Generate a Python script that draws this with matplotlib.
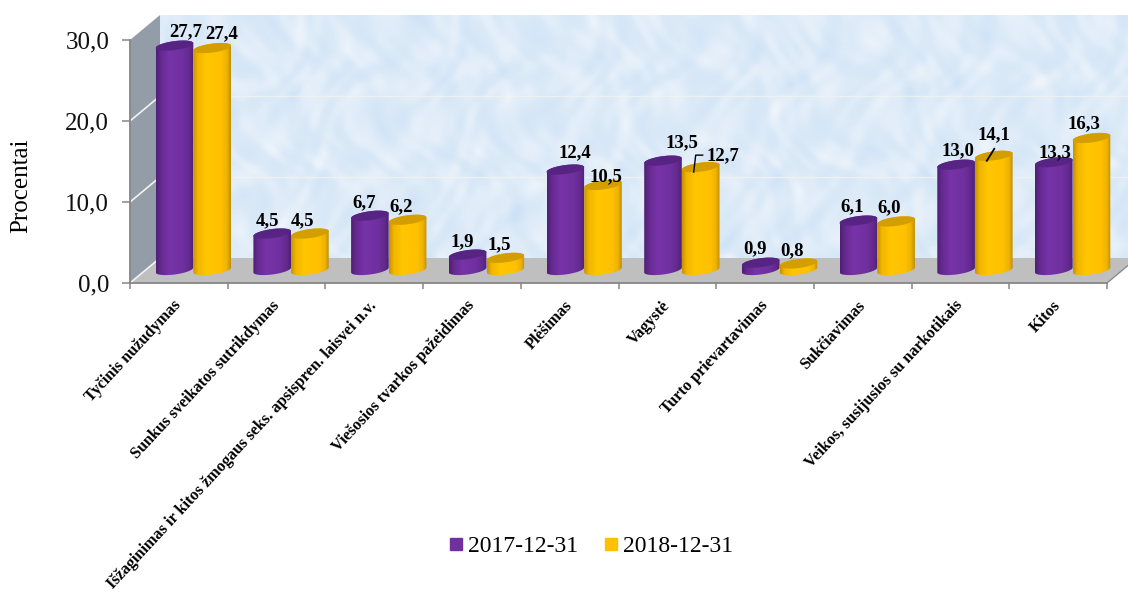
import numpy as np
import matplotlib
matplotlib.use("Agg")
import matplotlib.pyplot as plt
from matplotlib.colors import LinearSegmentedColormap
from matplotlib.lines import Line2D
from matplotlib.patches import PathPatch, Polygon
from matplotlib.path import Path
from matplotlib.transforms import Affine2D

plt.rcParams['font.family'] = ['Liberation Serif', 'DejaVu Serif']

categories = ["Tyčinis nužudymas", "Sunkus sveikatos sutrikdymas",
              "Išžaginimas ir kitos žmogaus seks. apsispren. laisvei n.v.",
              "Viešosios tvarkos pažeidimas", "Plėšimas", "Vagystė",
              "Turto prievartavimas", "Sukčiavimas",
              "Veikos, susijusios su narkotikais", "Kitos"]
series_names = ["2017-12-31", "2018-12-31"]
values_2017 = [27.7, 4.5, 6.7, 1.9, 12.4, 13.5, 0.9, 6.1, 13.0, 13.3]
values_2018 = [27.4, 4.5, 6.2, 1.5, 10.5, 12.7, 0.8, 6.0, 14.1, 16.3]
y_ticks = [0, 10, 20, 30]
y_tick_labels = ["0,0", "10,0", "20,0", "30,0"]
label_2017 = ["27,7", "4,5", "6,7", "1,9", "12,4", "13,5", "0,9", "6,1", "13,0", "13,3"]
label_2018 = ["27,4", "4,5", "6,2", "1,5", "10,5", "12,7", "0,8", "6,0", "14,1", "16,3"]

# label nudges from each bar top, in pixels (layout only)
nudge_2017 = [(11.5, 14), (-5, 12.5), (-6, 12.7), (-5.6, 12.6), (10, 16.6), (19, 18), (-5.7, 13.7), (-6.4, 13.5), (2, 13.7), (1, 10)]
nudge_2018 = [(9, 14), (-7, 12.5), (-6.6, 12.8), (-6, 12.8), (3, 8), (22, 11), (-6.4, 12.5), (-7, 13.3), (0, 21), (-7.5, 14)]

W, H = 1128, 597
L, R, B, T = 130, 1107, 283, 40
fig = plt.figure(figsize=(W / 100, H / 100), dpi=100, facecolor="white")
ax = fig.add_axes([L / W, 1 - B / H, (R - L) / W, (B - T) / H])
ax.set_facecolor("none")
px = (R - L) / 10          # pixels per category
py = (B - T) / 30          # pixels per unit
DX, DY = 30 / px, 25 / py  # depth of the 3D box, in data units


def clipped_image(arr, extent, cmap, patch, z):
    patch.set_facecolor("none")
    patch.set_edgecolor("none")
    patch.set_clip_on(False)
    ax.add_patch(patch)
    im = ax.imshow(arr, extent=extent, cmap=cmap, aspect="auto", vmin=0, vmax=1,
                   zorder=z, interpolation="bilinear", origin="lower")
    im.set_clip_box(fig.bbox)
    im.set_clip_path(patch)


# back wall with pale mottled fill (a fixed mix of waves, decoration only)
xx, yy = np.meshgrid(np.arange(1000.0), np.arange(245.0))
warp_x = xx + 9 * np.sin(yy * 0.053 + 0.8) + 6 * np.sin(xx * 0.041)
warp_y = yy + 9 * np.sin(xx * 0.047 + 2.1) + 6 * np.sin(yy * 0.067)
mottle = np.zeros_like(xx)
for fx, fy, ph, amp in [(0.071, 0.093, 0.4, 1.0), (0.087, -0.079, 1.9, 1.0), (0.123, 0.031, 3.1, 0.8),
                        (-0.041, 0.137, 0.7, 0.8), (0.167, 0.113, 2.3, 0.7), (0.193, -0.149, 4.4, 0.7),
                        (0.251, 0.219, 5.2, 0.5), (-0.277, 0.191, 1.2, 0.5), (0.331, 0.057, 2.8, 0.4)]:
    mottle += amp * np.sin(fx * warp_x + fy * warp_y + ph)
mottle = (mottle - mottle.min()) / (mottle.max() - mottle.min())
wall_cmap = LinearSegmentedColormap.from_list("wall", ["#CCE2F6", "#DCEAF8", "#EFF5FB"])
wall_x1 = 10 + DX + 0.3
wall = Polygon([(DX, DY), (wall_x1, DY), (wall_x1, 30 + DY), (DX, 30 + DY)], closed=True,
               transform=ax.transData)
clipped_image(mottle, (DX, wall_x1, DY, 30 + DY), wall_cmap, wall, 1)
ax.add_patch(Polygon([(0, 0), (DX, DY), (DX, 30 + DY), (0, 30)], closed=True,
                     fc="#939DA7", ec="none", zorder=1.1, clip_on=False))
ax.add_patch(Polygon([(0, 0), (DX, DY), (wall_x1, DY), (10 + 0.3, 0), (10, 0)], closed=True,
                     fc="#BFBFBF", ec="none", zorder=1.1, clip_on=False))
ax.add_patch(Polygon([(10, 0), (10 + DX, DY), (wall_x1, DY), (wall_x1, -1)], closed=True,
                     fc="white", ec="none", zorder=1.15, clip_on=False))
ax.plot([10, 10 + DX], [0, DY], color="#8C8C8C", lw=1.0, zorder=1.2, clip_on=False)
for v in y_ticks[1:3]:
    ax.plot([0, DX], [v, v + DY], color="#F2F2F2", lw=1.2, zorder=1.2, clip_on=False)
    ax.plot([DX, wall_x1], [v + DY, v + DY], color="#F4F4F0", lw=1.0, alpha=0.7, zorder=1.2, clip_on=False)
ax.plot([0, DX], [0, DY], color="#F2F2F2", lw=1.2, zorder=1.2, clip_on=False)

# cylinders
a = 18.8 / px
b = 4.5 / py
tilt = 2.4 / py
base = 13 / py
t = np.linspace(0, 2 * np.pi, 81)

shades = {
    0: (LinearSegmentedColormap.from_list("p", [(0, "#4E2074"), (0.12, "#65298F"), (0.35, "#7733A8"),
                                                (0.7, "#7030A0"), (0.9, "#62298C"), (1, "#4E2074")]), "#582483"),
    1: (LinearSegmentedColormap.from_list("y", [(0, "#C59400"), (0.12, "#F2B600"), (0.35, "#FFC600"),
                                                (0.75, "#FFC000"), (0.9, "#EFB300"), (1, "#BF9000")]), "#D29E00"),
}


def cylinder(cx, value, kind, z):
    cmap, top = shades[kind]
    y_top = value + base
    lower = np.linspace(np.pi, 2 * np.pi, 41)
    upper = np.linspace(0, np.pi, 41)
    xs = np.r_[cx + a * np.cos(lower), cx + a * np.cos(upper)]
    ys = np.r_[base + b * np.sin(lower) + tilt * np.cos(lower),
               y_top + b * np.sin(upper) + tilt * np.cos(upper)]
    body = PathPatch(Path(np.c_[xs, ys], closed=False), transform=ax.transData)
    grad = np.linspace(0, 1, 64).reshape(1, -1)
    clipped_image(grad, (cx - a, cx + a, base - 2 * b - tilt, y_top + 2 * b + tilt), cmap, body, z)
    ax.add_patch(Polygon(np.c_[cx + a * np.cos(t), y_top + b * np.sin(t) + tilt * np.cos(t)],
                         closed=True, fc=top, ec="none", zorder=z + 0.01, clip_on=False))


def px_offset(dx, dy):
    return ax.transData + Affine2D().translate(dx, dy)


for i in range(len(categories)):
    c1 = i + (174.5 - L) / px
    c2 = i + (212.2 - L) / px
    cylinder(c1, values_2017[i], 0, 3 + i * 0.1)
    cylinder(c2, values_2018[i], 1, 3.05 + i * 0.1)
    for cx, v, lab, (nx, ny) in ((c1, values_2017[i], label_2017[i], nudge_2017[i]),
                                 (c2, values_2018[i], label_2018[i], nudge_2018[i])):
        ax.text(cx, v + base, lab, transform=px_offset(nx, ny), ha="center", va="center",
                fontsize=13.5, fontweight="bold", color="black", zorder=6, clip_on=False)

# leader lines
c = 5 + (212.2 - L) / px
top = values_2018[5] + base
ax.plot([c - 7 / px, c - 5 / px, c + 2 / px], [top - 5 / py, top + 12 / py, top + 12 / py],
        color="black", lw=1.0, zorder=6, clip_on=False)
c = 8 + (212.2 - L) / px
top = values_2018[8] + base
ax.plot([c - 7 / px, c + 0.5 / px], [top - 5 / py, top + 7 / py],
        color="black", lw=1.3, zorder=6, clip_on=False)

# axes
ax.set_xlim(0, 10)
ax.set_ylim(0, 30)
for s in ("top", "right"):
    ax.spines[s].set_visible(False)
for s in ("left", "bottom"):
    ax.spines[s].set_color("#868686")
    ax.spines[s].set_linewidth(1.3)
    ax.spines[s].set_zorder(2)
ax.set_axisbelow(False)
ax.set_yticks(y_ticks, y_tick_labels, fontsize=18, color="#111111")
ax.tick_params(axis="y", length=6, width=1.1, color="#868686", pad=9)
ax.set_xticks(np.arange(0, 11))
ax.tick_params(axis="x", length=4.5, width=1.1, color="#868686", labelbottom=False)
for i, name in enumerate(categories):
    ax.annotate(name, xy=(i + 0.5, 0), xycoords="data", xytext=(0, -20), textcoords="offset pixels",
                rotation=47, rotation_mode="anchor", ha="right", va="center",
                fontsize=11.7, fontweight="bold", color="black", annotation_clip=False)
ax.set_ylabel("Procentai", fontsize=18)
ax.yaxis.set_label_coords((32 - L) / (R - L), (B - 186) / (B - T))

handles = [Line2D([], [], ls="none", marker="s", ms=9, mfc=col, mec=col) for col in ("#7030A0", "#FFC000")]
fig.legend(handles, series_names, loc="center", bbox_to_anchor=(589 / W, 1 - 546 / H), ncol=2, frameon=False,
           fontsize=17, handletextpad=0.0, columnspacing=0.9, borderpad=0, handlelength=1.0)

fig.savefig("out.png", dpi=100)
